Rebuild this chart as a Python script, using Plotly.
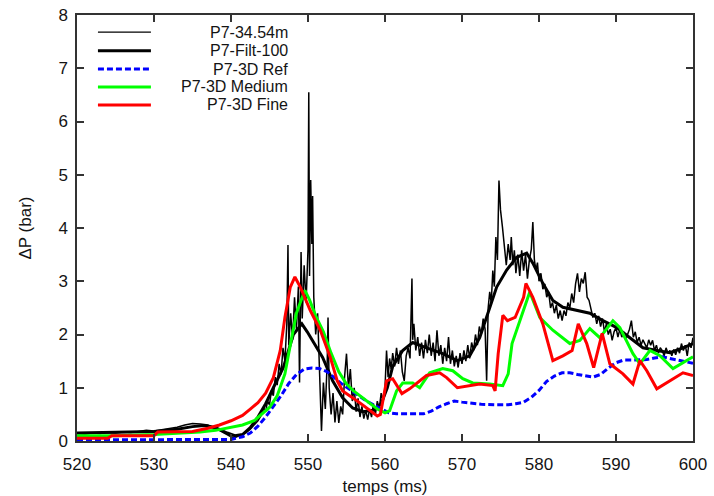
import plotly.graph_objects as go

# ---------------- data ----------------
raw_x = [520, 521, 522, 523, 524, 525, 526, 527, 528, 529, 530, 531, 532, 533, 534, 535, 536, 537, 538, 539,
         539.5, 540, 540.5, 541, 541.5, 542, 542.5, 543, 543.5, 544, 544.25, 544.5, 544.75, 545, 545.25, 545.5,
         545.75, 546, 546.25, 546.5, 546.75, 547, 547.25, 547.4, 547.5, 547.75, 548, 548.25, 548.5, 548.75,
         548.9, 549.1, 549.25, 549.5, 549.75, 550.0, 550.1, 550.2, 550.35, 550.5, 550.6, 550.75, 551, 551.25,
         551.5, 551.75, 552, 552.25, 552.5, 552.6, 552.75, 553, 553.25, 553.5, 553.75, 554, 554.25, 554.5,
         554.75, 555, 555.25, 555.5, 555.75, 556, 556.25, 556.5, 556.75, 557, 557.25, 557.5, 557.75, 558,
         558.25, 558.5, 558.75, 559, 559.25, 559.5, 559.75, 560, 560.2, 560.4, 560.6, 560.8, 561, 561.25,
         561.5, 561.75, 562, 562.25, 562.5, 562.75, 563, 563.25, 563.5, 563.6, 563.75, 564, 564.25, 564.5,
         564.75, 565, 565.25, 565.5, 565.75, 566, 566.25, 566.5, 566.75, 567, 567.25, 567.5, 567.75, 568,
         568.25, 568.5, 568.75, 569, 569.25, 569.5, 569.75, 570, 570.25, 570.5, 570.75, 571, 571.25, 571.5,
         571.75, 572, 572.25, 572.5, 572.75, 573, 573.2, 573.4, 573.6, 573.8, 574, 574.2, 574.4, 574.6,
         574.8, 575, 575.25, 575.5, 575.75, 576, 576.25, 576.4, 576.6, 576.8, 577, 577.25, 577.5, 577.75,
         578, 578.25, 578.5, 578.75, 579, 579.2, 579.4, 579.6, 579.8, 580, 580.25, 580.5, 580.75, 581,
         581.25, 581.5, 581.75, 582, 582.25, 582.5, 582.75, 583, 583.25, 583.5, 583.75, 584, 584.25, 584.5,
         584.75, 585, 585.25, 585.5, 585.75, 586, 586.25, 586.5, 586.75, 587, 587.25, 587.5, 587.75, 588,
         588.25, 588.5, 588.75, 589, 589.25, 589.5, 589.75, 590, 590.25, 590.5, 590.75, 591, 591.25, 591.5,
         591.75, 592, 592.25, 592.5, 592.75, 593, 593.25, 593.5, 593.75, 594, 594.25, 594.5, 594.75, 595,
         595.25, 595.5, 595.75, 596, 596.25, 596.5, 596.75, 597, 597.25, 597.5, 597.75, 598, 598.25, 598.5,
         598.75, 599, 599.25, 599.5, 599.75, 600]
raw_y = [0.14, 0.13, 0.15, 0.14, 0.16, 0.15, 0.17, 0.16, 0.18, 0.2, 0.19, 0.21, 0.23, 0.26, 0.3, 0.33, 0.32, 0.3, 0.24, 0.16,
         0.12, 0.08, 0.06, 0.09, 0.12, 0.16, 0.22, 0.3, 0.38, 0.5, 0.62, 0.55, 0.75, 0.68, 0.95, 0.85,
         1.2, 1.05, 1.45, 1.25, 1.75, 1.5, 2.2, 3.68, 1.8, 2.4, 1.9, 2.7, 2.1, 2.9,
         1.1, 3.55, 2.3, 3.3, 2.6, 3.6, 6.55, 3.1, 4.9, 3.7, 4.6, 2.7, 2.0, 2.4,
         1.3, 0.19, 1.1, 0.6, 1.5, 2.32, 1.0, 0.5, 0.9, 0.35, 0.75, 0.34, 0.65, 0.5,
         1.2, 1.64, 1.0, 1.35, 0.75, 1.0, 0.55, 0.8, 0.45, 0.65, 0.42, 0.58, 0.4, 0.6,
         0.45, 0.7, 0.5, 0.75, 0.6, 0.9, 0.75, 1.0, 1.7, 1.2, 1.55, 1.35, 1.65, 1.4,
         1.75, 1.45, 1.7, 1.3, 1.13, 1.6, 1.75, 1.55, 3.05, 1.9, 2.2, 1.7, 1.95, 1.6,
         1.85, 1.55, 1.9, 1.65, 2.0, 1.6, 1.85, 1.5, 2.08, 1.6, 1.8, 1.45, 1.75, 1.5,
         1.95, 1.45, 1.7, 1.4, 1.6, 1.38, 1.65, 1.45, 1.7, 1.5, 1.8, 1.55, 1.85, 1.7,
         2.0, 1.8, 2.15, 2.0, 2.3, 2.1, 1.13, 2.5, 2.8, 2.6, 3.2, 2.9, 3.83, 3.4,
         4.89, 4.34, 4.02, 3.58, 3.3, 3.7, 3.4, 3.83, 3.3, 3.58, 3.15, 3.5, 3.1, 3.58,
         3.2, 3.5, 3.05, 3.4, 3.6, 4.11, 3.4, 3.2, 3.35, 3.0, 3.15, 2.85, 2.95, 2.7,
         2.8, 2.5, 2.6, 2.4, 2.55, 2.3, 2.45, 2.26, 2.45, 2.35, 2.6, 2.5, 2.77, 2.6,
         2.95, 3.15, 2.8, 3.05, 2.96, 3.17, 2.7, 2.64, 2.45, 2.32, 2.4, 2.2, 2.35, 2.15,
         2.3, 2.05, 2.2, 2.0, 2.1, 1.89, 2.05, 2.13, 1.95, 2.1, 1.95, 2.05, 1.9, 2.0,
         2.1, 2.26, 1.95, 2.05, 1.85, 1.95, 1.8, 1.9, 1.83, 1.75, 1.9, 1.8, 1.89, 1.7,
         1.8, 1.65, 1.75, 1.7, 1.6, 1.75, 1.65, 1.7, 1.6, 1.72, 1.62, 1.75, 1.65, 1.83,
         1.7, 1.8, 1.6, 1.85, 1.75, 1.94]

filt_x = [520, 525, 530, 533, 535, 536.5, 538, 539.5, 540.5, 541.5, 542.5, 543.5, 544.5, 545.5, 546.8, 548.1,
          549.2, 549.9, 550.6, 551.9, 553.2, 554.5, 555.8, 557.1, 558.5, 559.5, 560.3, 561, 562.3, 563.6,
          565.4, 567.5, 569.4, 571, 572.3, 573.6, 574.5, 575.8, 577.1, 578.4, 579.2, 580.5, 581.8, 583.1,
          584.9, 586.6, 588.3, 590.1, 591.8, 593.5, 595.3, 597, 598.7, 600]
filt_y = [0.15, 0.16, 0.18, 0.22, 0.27, 0.29, 0.25, 0.15, 0.1, 0.12, 0.25, 0.45, 0.7, 1.0, 1.38, 2.0,
          2.2, 2.05, 1.89, 1.57, 1.13, 0.81, 0.62, 0.55, 0.58, 0.7, 1.0, 1.4, 1.7, 1.85,
          1.75, 1.64, 1.51, 1.6, 1.94, 2.51, 2.89, 3.21, 3.45, 3.53, 3.34, 2.96, 2.64, 2.51,
          2.45, 2.4, 2.26, 2.13, 1.94, 1.75, 1.7, 1.66, 1.75, 1.83]

ref_x = [520, 530, 538, 540, 541.5, 542.5, 543.5, 544.5, 545.5, 546.5, 547.5, 548.5, 549.5, 550.5, 551.5,
         552.5, 553.5, 554.5, 555.5, 556.5, 557.5, 558.5, 559.5, 560.5, 561.5, 563, 565, 566, 567, 568,
         569, 570, 571, 572.5, 574.5, 576, 577, 578, 579, 580, 581, 582, 583, 584, 585, 586, 587, 588,
         589, 590, 591, 592, 593, 594, 595, 596, 597, 598, 599, 600]
ref_y = [0.02, 0.02, 0.02, 0.03, 0.08, 0.15, 0.28, 0.45, 0.65, 0.85, 1.08, 1.25, 1.35, 1.37, 1.36,
         1.3, 1.18, 1.06, 0.96, 0.86, 0.76, 0.68, 0.6, 0.53, 0.51, 0.51, 0.51, 0.56, 0.64, 0.7,
         0.75, 0.73, 0.71, 0.69, 0.68, 0.68, 0.7, 0.73, 0.82, 0.95, 1.12, 1.22, 1.28, 1.28, 1.25, 1.22, 1.2, 1.25,
         1.37, 1.47, 1.52, 1.52, 1.52, 1.53, 1.56, 1.58, 1.55, 1.52, 1.48, 1.46]

med_x = [520, 525, 530, 533, 536, 538, 540, 541.5, 543, 544, 545, 546, 547, 547.5, 548, 548.5, 549, 549.6,
         550.2, 551, 552, 553, 554, 555, 556, 557, 558, 559, 560, 560.6, 561.5, 562.3, 563.6, 564.5,
         565.8, 567.5, 568.8, 570.1, 571.4, 573.6, 575.3, 576, 576.5, 577.5, 578.4, 578.8, 580.1, 581.8,
         584, 585.3, 586.6, 587.9, 589.6, 590.5, 592.2, 593.1, 594.4, 595.7, 597.4, 599.6, 600]
med_y = [0.1, 0.1, 0.12, 0.14, 0.17, 0.2, 0.25, 0.3, 0.38, 0.5, 0.63, 0.85, 1.26, 1.65, 2.05, 2.4, 2.6, 2.83,
         2.65, 2.35, 2.05, 1.65, 1.3, 1.07, 0.93, 0.82, 0.7, 0.6, 0.53, 0.57, 0.94, 1.09, 1.09, 1.0,
         1.28, 1.36, 1.32, 1.17, 1.09, 1.07, 1.04, 1.26, 1.83, 2.26, 2.64, 2.8, 2.32, 2.08,
         1.83, 1.89, 2.11, 1.94, 2.26, 2.13, 1.64, 1.45, 1.7, 1.6, 1.36, 1.55, 1.58]

fine_x = [520, 524, 524.5, 530, 530.5, 535, 537, 538.5, 540, 541.5, 542.5, 543.5, 544.5, 545.5, 546.4, 547,
          547.7, 548.3, 549, 550.3, 551.6, 552.9, 553.8, 554.5, 556.4, 558.1, 559, 559.4, 560.2, 561,
          562.2, 563.2, 564.5, 565.4, 567.1, 568, 569.4, 571, 572.3, 574, 574.3, 574.7, 575.3, 575.9,
          576.9, 578, 578.3, 579.2, 580.5, 581.8, 583.1, 584.3, 585.1, 586.2, 587.1, 588.2, 589.2, 590.9,
          592.2, 593.1, 594, 595.3, 597, 598.7, 600]
fine_y = [0.05, 0.05, 0.1, 0.1, 0.17, 0.18, 0.24, 0.3, 0.38, 0.48, 0.6, 0.72, 0.9, 1.19, 1.7, 2.32,
          2.89, 3.08, 2.89, 2.45, 2.08, 1.57, 1.13, 0.94, 0.75, 0.57, 0.47, 0.5, 1.13, 1.17,
          0.89, 0.98, 1.13, 1.23, 1.28, 1.19, 1.0, 1.04, 1.07, 1.04, 0.94, 1.64, 2.36, 2.26,
          2.32, 2.7, 2.96, 2.7, 2.2, 1.51, 1.6, 1.7, 2.2, 1.83, 1.38, 2.02, 1.45, 1.26,
          1.07, 1.51, 1.32, 0.98, 1.13, 1.28, 1.23]

series_names = ["P7-34.54m", "P7-Filt-100", "P7-3D Ref", "P7-3D Medium", "P7-3D Fine"]
x_ticks = [520, 530, 540, 550, 560, 570, 580, 590, 600]
y_ticks = [0, 1, 2, 3, 4, 5, 6, 7, 8]

# ---------------- styling ----------------
styles = [
    dict(color="#000000", width=1.5, dash="solid"),
    dict(color="#000000", width=3, dash="solid"),
    dict(color="#0000ff", width=3, dash="6px,3px"),
    dict(color="#00ff00", width=3, dash="solid"),
    dict(color="#ff0000", width=3, dash="solid"),
]
data = [(raw_x, raw_y), (filt_x, filt_y), (ref_x, ref_y), (med_x, med_y), (fine_x, fine_y)]

FONT = "Liberation Sans, Arial, Helvetica, sans-serif"
TXT = "#141414"

fig = go.Figure()
for (xs, ys), name, st in zip(data, series_names, styles):
    fig.add_trace(go.Scatter(x=xs, y=ys, mode="lines", name=name, line=st, showlegend=False))

# custom gnuplot-style legend (right-aligned text, sample lines on the left)
leg_y = [0.960, 0.916, 0.873, 0.831, 0.789]
for name, st, yy in zip(series_names, styles, leg_y):
    fig.add_shape(type="line", xref="paper", yref="paper", x0=0.034, x1=0.120, y0=yy, y1=yy,
                  line=dict(color=st["color"], width=st["width"] if st["width"] > 2 else 1.3,
                            dash=st["dash"]))
    fig.add_annotation(text=name, xref="paper", yref="paper", x=0.344, y=yy, xanchor="right",
                       yanchor="middle", showarrow=False, borderpad=0,
                       font=dict(family=FONT, size=16, color=TXT))

axis_common = dict(showline=True, linecolor="#333333", linewidth=1.5, mirror="allticks",
                   ticks="inside", ticklen=7, tickwidth=1.5, tickcolor="#333333",
                   showgrid=False, zeroline=False, automargin=False,
                   tickfont=dict(family=FONT, size=17, color=TXT))

fig.update_xaxes(range=[520, 600], tickvals=x_ticks, ticklabelstandoff=7,
                 title=dict(text="temps (ms)", font=dict(family=FONT, size=17, color=TXT), standoff=13),
                 **axis_common)
fig.update_yaxes(range=[0, 8], tickvals=y_ticks, ticklabelstandoff=4,
                 title=dict(text="ΔP (bar)", font=dict(family=FONT, size=17, color=TXT), standoff=22),
                 **axis_common)

fig.update_layout(width=714, height=496, margin=dict(l=77, r=21, t=15, b=55),
                  paper_bgcolor="white", plot_bgcolor="white", showlegend=False)

fig.write_html("out.html", config={"displayModeBar": False},
               post_script="document.body.style.margin='0';document.body.style.padding='0';")
